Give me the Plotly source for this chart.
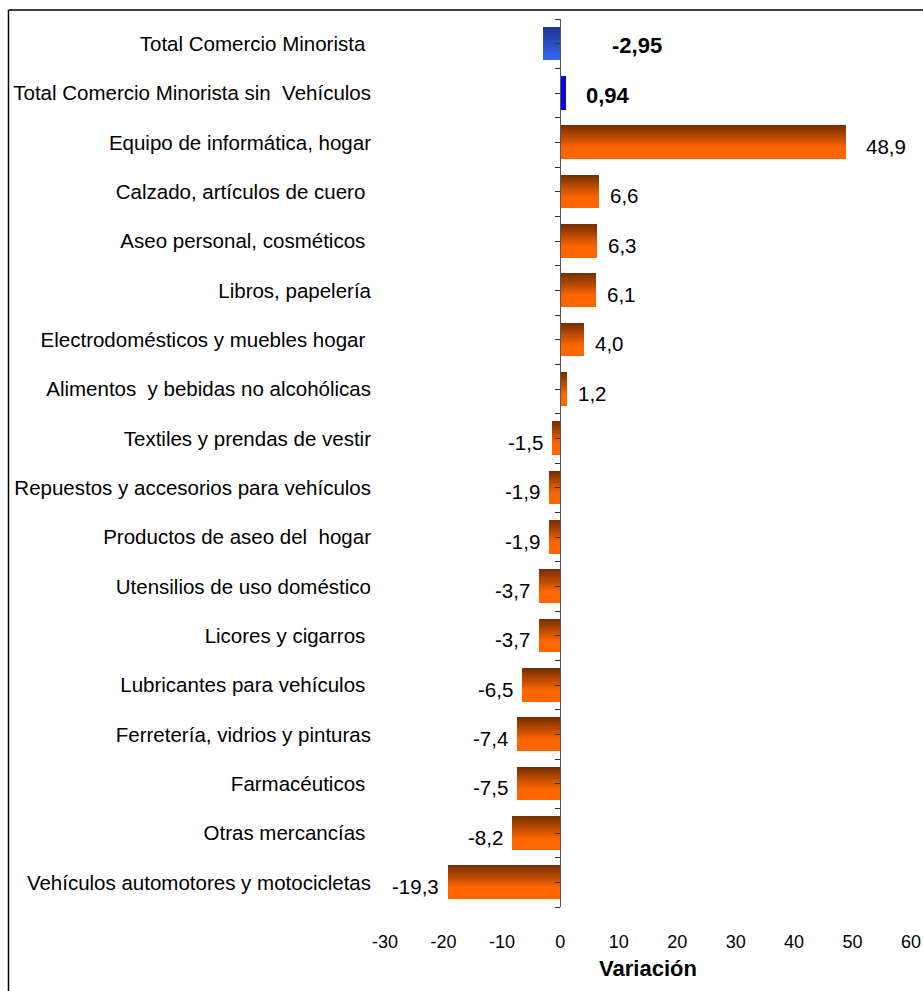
import plotly.graph_objects as go

categories = [
    "Total Comercio Minorista ",
    "Total Comercio Minorista sin  Vehículos",
    "Equipo de informática, hogar",
    "Calzado, artículos de cuero ",
    "Aseo personal, cosméticos ",
    "Libros, papelería",
    "Electrodomésticos y muebles hogar ",
    "Alimentos  y bebidas no alcohólicas",
    "Textiles y prendas de vestir",
    "Repuestos y accesorios para vehículos",
    "Productos de aseo del  hogar",
    "Utensilios de uso doméstico",
    "Licores y cigarros ",
    "Lubricantes para vehículos ",
    "Ferretería, vidrios y pinturas",
    "Farmacéuticos ",
    "Otras mercancías ",
    "Vehículos automotores y motocicletas",
]
values = [-2.95, 0.94, 48.9, 6.6, 6.3, 6.1, 4.0, 1.2, -1.5, -1.9, -1.9,
          -3.7, -3.7, -6.5, -7.4, -7.5, -8.2, -19.3]
value_labels = ["-2,95", "0,94", "48,9", "6,6", "6,3", "6,1", "4,0", "1,2",
                "-1,5", "-1,9", "-1,9", "-3,7", "-3,7", "-6,5", "-7,4",
                "-7,5", "-8,2", "-19,3"]
x_ticks = [-30, -20, -10, 0, 10, 20, 30, 40, 50, 60]
x_tick_text = ["-30", "-20", "-10", "0", "10", "20", "30", "40", "50", "60"]

FONT = "Liberation Sans, Arial, sans-serif"
BAR_W = 0.67
pos = list(range(len(categories)))


def _mix(c1, c2, t):
    return "rgb(%d,%d,%d)" % tuple(round(a + (b - a) * t) for a, b in zip(c1, c2))


def gradient_bars(idx, top_rgb, bottom_rgb, reach=0.65, steps=14):
    """Nested overlay bars: full bar in bottom colour, then darker bands on top."""
    xs = [values[i] for i in idx]
    ys = [pos[i] for i in idx]
    traces = [go.Bar(x=xs, y=ys, orientation="h", width=BAR_W,
                     offset=-BAR_W / 2, marker=dict(color=_mix(top_rgb, bottom_rgb, 1),
                                                    line=dict(width=0)),
                     hoverinfo="skip", showlegend=False)]
    for k in range(steps, 0, -1):
        h = BAR_W * reach * k / steps
        t = (k - 1) / steps
        traces.append(go.Bar(x=xs, y=ys, orientation="h", width=h,
                             offset=-BAR_W / 2,
                             marker=dict(color=_mix(top_rgb, bottom_rgb, t),
                                         line=dict(width=0)),
                             hoverinfo="skip", showlegend=False))
    return traces


fig = go.Figure()
for tr in gradient_bars([0], (28, 54, 150), (58, 106, 245), reach=1.0):
    fig.add_trace(tr)
fig.add_trace(go.Bar(x=[values[1]], y=[pos[1]], orientation="h", width=BAR_W,
                     offset=-BAR_W / 2, marker=dict(color="#0505e0", line=dict(width=0)),
                     hoverinfo="skip", showlegend=False))
for tr in gradient_bars(list(range(2, len(values))), (122, 48, 0), (255, 102, 0)):
    fig.add_trace(tr)

# dummy trace so the zero-line axis is drawn
fig.add_trace(go.Scatter(x=[0, 0], y=[pos[0], pos[-1]], yaxis="y2", mode="lines",
                         line=dict(width=0), hoverinfo="skip", showlegend=False))

# value labels
for i, (v, lab) in enumerate(zip(values, value_labels)):
    if i == 0:
        fig.add_annotation(x=0, y=pos[i], text="<b>%s</b>" % lab, showarrow=False,
                           xanchor="left", xshift=50, yshift=-2,
                           font=dict(size=22, color="black", family=FONT))
    elif i == 1:
        fig.add_annotation(x=0, y=pos[i], text="<b>%s</b>" % lab, showarrow=False,
                           xanchor="left", xshift=24, yshift=-2,
                           font=dict(size=22, color="black", family=FONT))
    else:
        fig.add_annotation(x=v, y=pos[i], text=lab, showarrow=False,
                           xanchor="left" if v > 0 else "right",
                           xshift=(18 if v > 40 else 9) if v > 0 else -7, yshift=-4,
                           font=dict(size=20.5, color="black", family=FONT))

# outer frame (top and left edges)
fig.add_shape(type="line", xref="paper", yref="paper", x0=-0.7158, x1=1.03,
              y0=1.0101, y1=1.0101, line=dict(color="black", width=1.5))
fig.add_shape(type="line", xref="paper", yref="paper", x0=-0.7158, x1=-0.7158,
              y0=1.0101, y1=-0.1, line=dict(color="black", width=1.5))

yrange = [len(categories) - 0.5, -0.5]
fig.update_layout(
    width=923, height=991,
    margin=dict(l=385, r=12, t=19, b=84),
    plot_bgcolor="white", paper_bgcolor="white",
    barmode="overlay", bargap=0,
    font=dict(family=FONT, color="black"),
    xaxis=dict(range=[-30, 60], tickvals=x_ticks, ticktext=x_tick_text,
               showgrid=False, zeroline=False, automargin=False,
               showline=False, ticks="", ticklabelstandoff=22,
               tickfont=dict(size=18, family=FONT),
               title=dict(text="<b>Variación</b>", standoff=9,
                          font=dict(size=22, family=FONT))),
    yaxis=dict(range=yrange, tickvals=pos, ticktext=categories, showgrid=False,
               zeroline=False, showline=False, ticks="", ticklabelstandoff=13,
               automargin=False, tickfont=dict(size=20.5, family=FONT)),
    yaxis2=dict(range=yrange, overlaying="y", anchor="free", position=1 / 3,
                side="left", showline=True, linecolor="#555", linewidth=1.2,
                ticks="outside", ticklen=5, tickcolor="#333", automargin=False,
                tickvals=[p / 2 - 0.5 for p in range(2 * len(categories) + 1)],
                showticklabels=False, showgrid=False, zeroline=False),
)

fig.write_html("out.html", config={"responsive": False, "displayModeBar": False},
               post_script="document.body.style.margin='0';"
                           "document.body.style.overflow='hidden';")
